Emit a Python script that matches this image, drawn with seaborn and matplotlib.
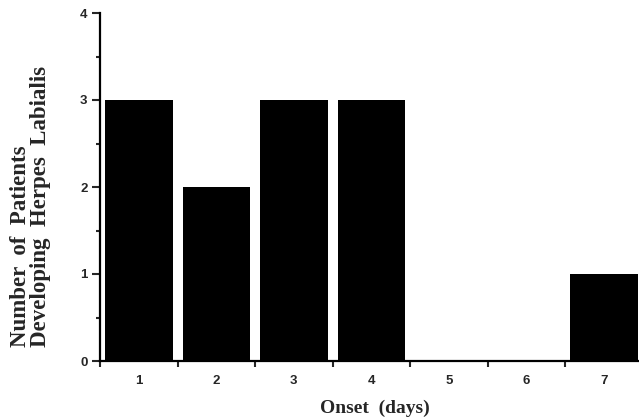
import matplotlib
matplotlib.use("Agg")
import matplotlib.pyplot as plt
import seaborn as sns
import numpy as np
import pandas as pd

days = [1, 2, 3, 4, 5, 6, 7]
patients = [3, 2, 3, 3, 0, 0, 1]
day_labels = ["1", "2", "3", "4", "5", "6", "7"]
y_ticks = [0, 1, 2, 3, 4]

sns.set_style("ticks")
plt.rcParams['font.family'] = ['Liberation Sans', 'DejaVu Sans']

df = pd.DataFrame({"day": days, "patients": patients})

fig = plt.figure(figsize=(6.39, 4.18), dpi=100)
ax = fig.add_axes([100/639, 57/418, 1 - 100/639, (361-13)/418])

sns.barplot(data=df, x="day", y="patients", native_scale=True, width=0.87,
            color="black", edgecolor="black", linewidth=0, saturation=1, ax=ax)

ax.set_xlim(0.5, 7.45)
ax.set_ylim(0, 4)

for s in ["top", "right"]:
    ax.spines[s].set_visible(False)
for s in ["left", "bottom"]:
    ax.spines[s].set_linewidth(1.6)
    ax.spines[s].set_color("black")

# y ticks
ax.set_yticks(y_ticks)
ax.set_yticklabels([str(v) for v in y_ticks], fontsize=9.5, fontweight="bold")
ax.set_yticks(np.arange(0.5, 4, 1.0), minor=True)
ax.tick_params(axis="y", which="major", direction="out", length=6, width=1.5, pad=3)
ax.tick_params(axis="y", which="minor", direction="out", length=3, width=1.5)

# x ticks: marks at boundaries, labels at centres
ax.set_xticks(np.arange(0.5, 7.5, 1.0))
ax.set_xticklabels([""] * 7)
ax.set_xticks(days, minor=True)
ax.set_xticklabels(day_labels, minor=True, fontsize=9.5, fontweight="bold")
ax.tick_params(axis="x", which="major", direction="out", length=4, width=1.5)
ax.tick_params(axis="x", which="minor", length=0, pad=10)

ax.set_xlabel("Onset  (days)", fontsize=14, fontweight="bold",
              family=["Liberation Serif", "DejaVu Serif"])
ax.xaxis.set_label_coords(0.510, -39/348)
ax.xaxis.label.set_va("top")

ax.set_ylabel("Number  of  Patients\nDeveloping  Herpes  Labialis", fontsize=16.5,
              fontweight="bold", family=["Liberation Serif", "DejaVu Serif"],
              linespacing=0.95, multialignment="left")
ax.yaxis.set_label_coords(-49/539, 0.445)

fig.savefig("out.png", dpi=100)
